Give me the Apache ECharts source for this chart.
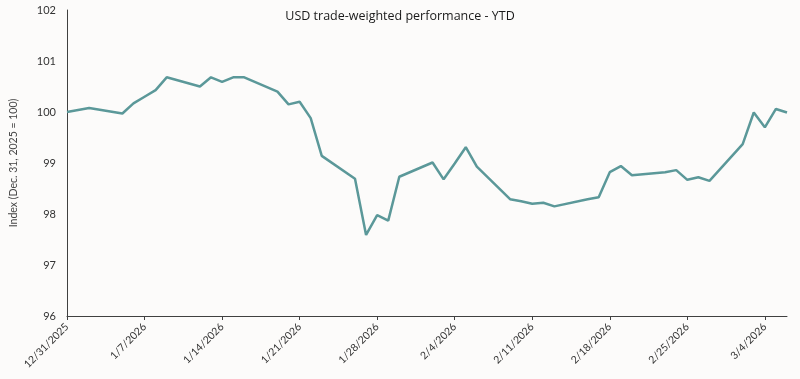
<!DOCTYPE html>
<html>
<head>
<meta charset="utf-8">
<script src="https://cdn.jsdelivr.net/npm/echarts@6/dist/echarts.min.js"></script>
<style>
html,body{margin:0;padding:0;background:#fcfbfa;}
#chart{width:800px;height:379px;}
</style>
</head>
<body>
<div id="chart"></div>
<script>
var titleText = 'USD trade-weighted performance - YTD';
var yAxisName = 'Index (Dec. 31, 2025 = 100)';
var dates = [
 '12/31/2025','1/1/2026','1/2/2026','1/3/2026','1/4/2026','1/5/2026','1/6/2026','1/7/2026','1/8/2026','1/9/2026',
 '1/10/2026','1/11/2026','1/12/2026','1/13/2026','1/14/2026','1/15/2026','1/16/2026','1/17/2026','1/18/2026','1/19/2026',
 '1/20/2026','1/21/2026','1/22/2026','1/23/2026','1/24/2026','1/25/2026','1/26/2026','1/27/2026','1/28/2026','1/29/2026',
 '1/30/2026','1/31/2026','2/1/2026','2/2/2026','2/3/2026','2/4/2026','2/5/2026','2/6/2026','2/7/2026','2/8/2026',
 '2/9/2026','2/10/2026','2/11/2026','2/12/2026','2/13/2026','2/14/2026','2/15/2026','2/16/2026','2/17/2026','2/18/2026',
 '2/19/2026','2/20/2026','2/21/2026','2/22/2026','2/23/2026','2/24/2026','2/25/2026','2/26/2026','2/27/2026','2/28/2026',
 '3/1/2026','3/2/2026','3/3/2026','3/4/2026','3/5/2026','3/6/2026'
];
var usdIndex = [
 100.00, null, 100.08, null, null, 99.97, 100.17, 100.30, 100.43, 100.68,
 null, null, 100.50, 100.68, 100.59, 100.68, 100.68, null, null, 100.40,
 100.15, 100.20, 99.88, 99.14, null, null, 98.69, 97.59, 97.98, 97.87,
 98.73, null, null, 99.01, 98.68, 98.99, 99.31, 98.93, null, null,
 98.29, 98.25, 98.20, 98.22, 98.15, null, null, 98.29, 98.33, 98.82,
 98.94, 98.76, null, null, 98.82, 98.86, 98.67, 98.72, 98.65, null,
 null, 99.37, 99.99, 99.70, 100.06, 99.99
];
var yMin = 96, yMax = 102, yStep = 1;

var chart = echarts.init(document.getElementById('chart'), null, {renderer:'canvas'});
chart.setOption({
  backgroundColor: '#fcfbfa',
  animation: false,
  textStyle: {fontFamily: 'Lato'},
  title: {
    text: titleText,
    left: 'center',
    top: 5,
    textStyle: {fontFamily: 'Open Sans', fontSize: 12.5, fontWeight: 'normal', color: '#1a1a1a'}
  },
  grid: {left: 64, right: 13, top: 10, bottom: 63, containLabel: false},
  xAxis: {
    type: 'category',
    data: dates,
    boundaryGap: false,
    axisLine: {lineStyle: {color: '#404040', width: 1}},
    axisTick: {show: true, interval: 6, length: 4, lineStyle: {color: '#404040'}},
    axisLabel: {interval: 6, rotate: 45, fontSize: 10.5, color: '#333', margin: 9, fontFamily: 'Lato'}
  },
  yAxis: {
    type: 'value',
    min: yMin, max: yMax, interval: yStep,
    name: yAxisName,
    nameLocation: 'middle',
    nameGap: 48,
    nameTextStyle: {fontSize: 10.5, color: '#444', fontFamily: 'Lato'},
    axisLine: {show: true, lineStyle: {color: '#404040', width: 1}},
    axisTick: {show: false},
    splitLine: {show: false},
    axisLabel: {fontSize: 11, color: '#333', margin: 11, fontFamily: 'Lato'}
  },
  series: [{
    type: 'line',
    data: usdIndex,
    connectNulls: true,
    showSymbol: false,
    lineStyle: {color: '#5b9899', width: 2.5},
    itemStyle: {color: '#5b9899'}
  }]
});
</script>
</body>
</html>
